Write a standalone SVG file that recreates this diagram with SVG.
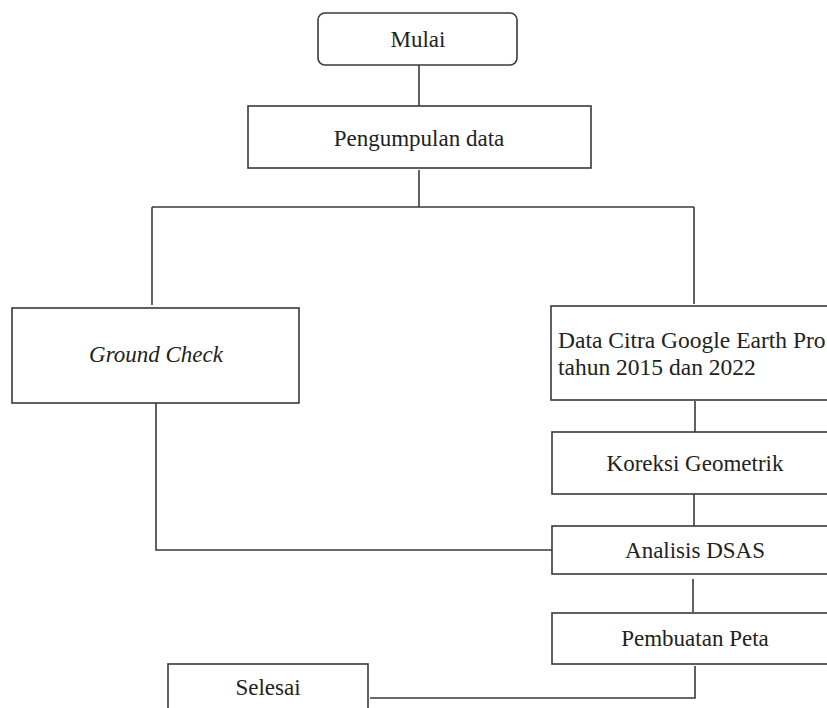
<svg xmlns="http://www.w3.org/2000/svg" width="827" height="708" viewBox="0 0 827 708">
<style>
.box{fill:#fff;stroke:#3a3a3a;stroke-width:1.6}
.ln{fill:none;stroke:#3a3a3a;stroke-width:1.6}
text{font-family:"Liberation Serif","Times New Roman",serif;font-size:23px;fill:#222}
.c{text-anchor:middle}
</style>
<rect width="827" height="708" fill="#fff"/>
<g id="connectors">
<path class="ln" d="M419 65V106"/>
<path class="ln" d="M419 170V207"/>
<path class="ln" d="M152 207H694"/>
<path class="ln" d="M152 207V305"/>
<path class="ln" d="M694 207V304"/>
<path class="ln" d="M695 401V432"/>
<path class="ln" d="M694 494V526"/>
<path class="ln" d="M156 403V550H552"/>
<path class="ln" d="M693 579V612"/>
<path class="ln" d="M695 666V698H370"/>
</g>
<g id="mulai">
<rect class="box" x="318" y="13" width="199" height="52" rx="7"/>
<text class="c" x="418" y="47">Mulai</text>
</g>
<g id="pengumpulan">
<rect class="box" x="248" y="106" width="343" height="62"/>
<text class="c" x="419" y="146">Pengumpulan data</text>
</g>
<g id="ground-check">
<rect class="box" x="12" y="308" width="287" height="95"/>
<text class="c" x="156" y="362" font-style="italic">Ground Check</text>
</g>
<g id="data-citra">
<rect class="box" x="551" y="306" width="290" height="94"/>
<text x="558" y="348" style="font-size:23.5px">Data Citra Google Earth Pro</text>
<text x="558" y="375" style="font-size:23.5px">tahun 2015 dan 2022</text>
</g>
<g id="koreksi">
<rect class="box" x="552" y="432" width="290" height="62"/>
<text class="c" x="695" y="471">Koreksi Geometrik</text>
</g>
<g id="analisis">
<rect class="box" x="552" y="526" width="290" height="48"/>
<text class="c" x="695" y="558">Analisis DSAS</text>
</g>
<g id="pembuatan">
<rect class="box" x="552" y="613" width="290" height="51"/>
<text class="c" x="695" y="646">Pembuatan Peta</text>
</g>
<g id="selesai">
<rect class="box" x="168" y="664" width="200" height="60"/>
<text class="c" x="268" y="695">Selesai</text>
</g>
</svg>
